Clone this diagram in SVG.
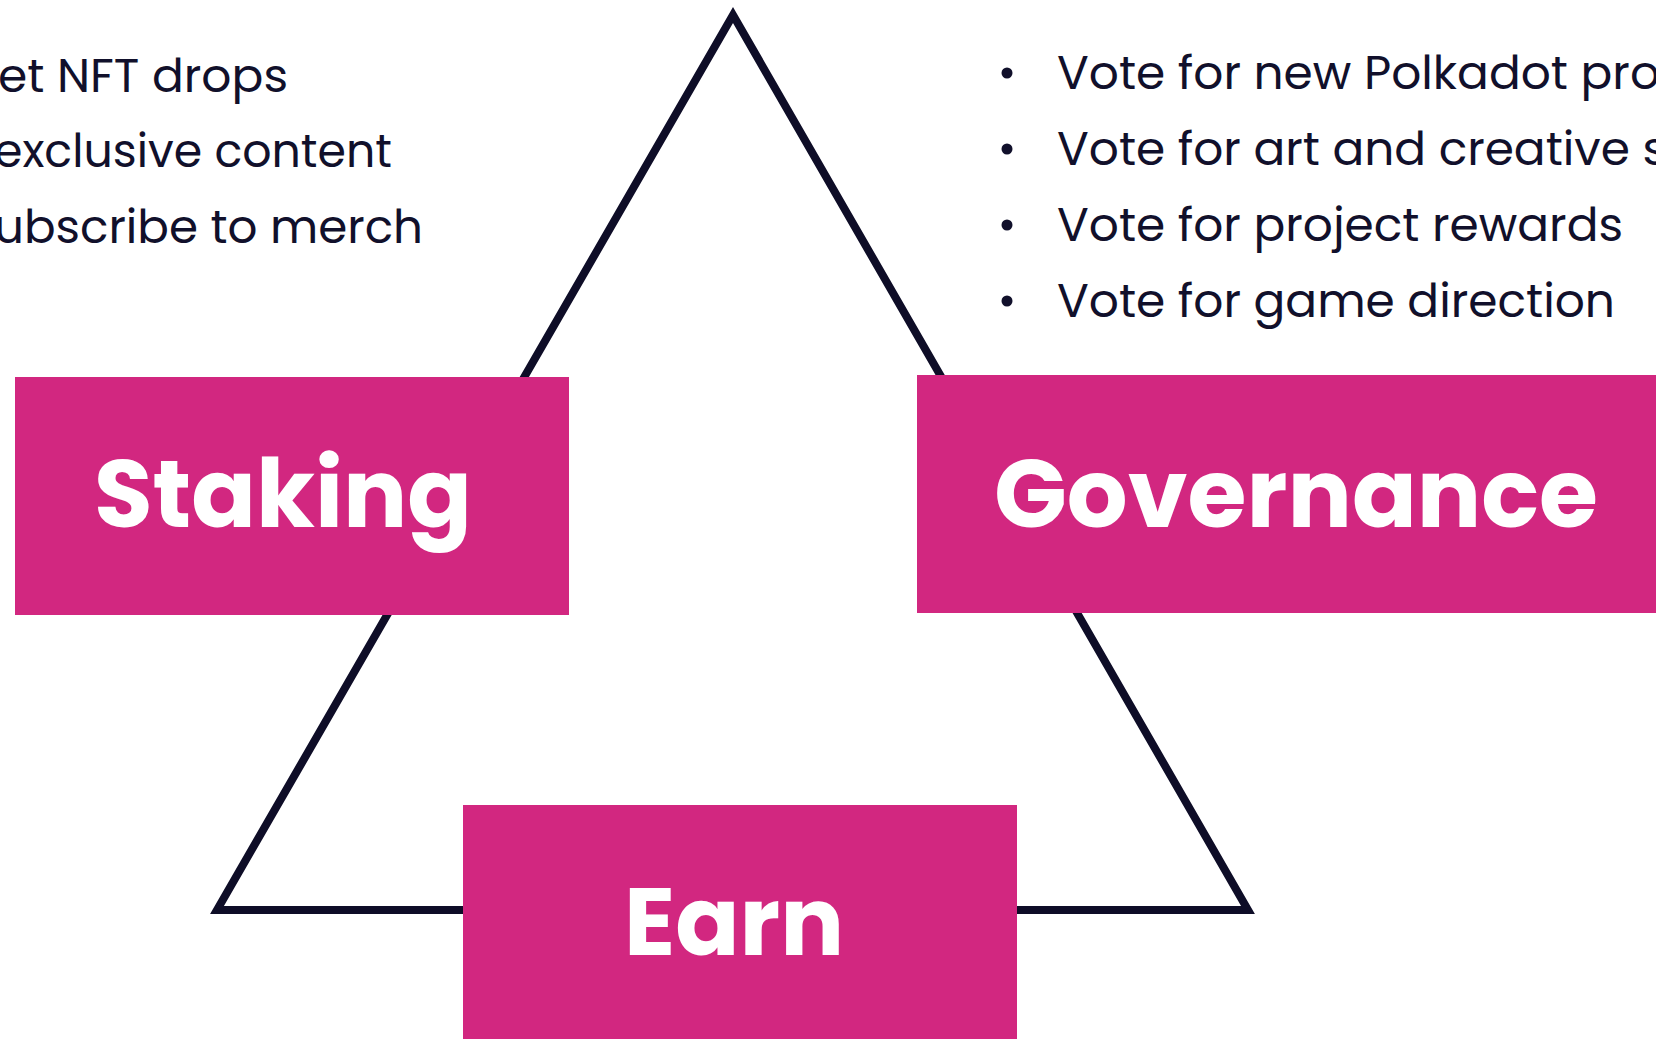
<svg xmlns="http://www.w3.org/2000/svg" width="1656" height="1039" viewBox="0 0 1656 1039">
<style>
.box{fill:#D22780}
.lbl{font-family:"Poppins","Inter","Liberation Sans",sans-serif;font-weight:700;font-size:96px;fill:#FFFFFF}
.item{font-family:"Poppins","Inter","Liberation Sans",sans-serif;font-weight:400;font-size:46px;fill:#11102B}
.bullet{fill:#11102B}
.tri{fill:none;stroke:#0E0D27;stroke-width:8;stroke-linejoin:miter;stroke-miterlimit:10}
</style>
<rect width="1656" height="1039" fill="#FFFFFF"/>
<g id="connectors">
<polygon class="tri" points="733,15 1248,910 217,910"/>
</g>
<g id="staking-list">
<text class="item" x="-2" y="92" textLength="290" lengthAdjust="spacingAndGlyphs">et NFT drops</text>
<text class="item" x="-6" y="167" textLength="398" lengthAdjust="spacingAndGlyphs">exclusive content</text>
<text class="item" x="-6" y="243" textLength="429" lengthAdjust="spacingAndGlyphs">ubscribe to merch</text>
</g>
<g id="governance-list">
<circle class="bullet" cx="1007" cy="73" r="5.5"/>
<circle class="bullet" cx="1007" cy="149" r="5.5"/>
<circle class="bullet" cx="1007" cy="225" r="5.5"/>
<circle class="bullet" cx="1007" cy="301" r="5.5"/>
<text class="item" x="1057" y="89" textLength="603" lengthAdjust="spacingAndGlyphs">Vote for new Polkadot pro</text>
<text class="item" x="1057" y="165" textLength="610" lengthAdjust="spacingAndGlyphs">Vote for art and creative s</text>
<text class="item" x="1057" y="241" textLength="566" lengthAdjust="spacingAndGlyphs">Vote for project rewards</text>
<text class="item" x="1057" y="317" textLength="558" lengthAdjust="spacingAndGlyphs">Vote for game direction</text>
</g>
<g id="staking">
<rect class="box" x="15" y="377" width="554" height="238"/>
<text class="lbl" x="94" y="527" textLength="378" lengthAdjust="spacingAndGlyphs">Staking</text>
</g>
<g id="governance">
<rect class="box" x="917" y="375" width="739" height="238"/>
<text class="lbl" x="994" y="527" textLength="604" lengthAdjust="spacingAndGlyphs">Governance</text>
</g>
<g id="earn">
<rect class="box" x="463" y="805" width="554" height="234"/>
<text class="lbl" x="624" y="955" textLength="220" lengthAdjust="spacingAndGlyphs">Earn</text>
</g>
</svg>
